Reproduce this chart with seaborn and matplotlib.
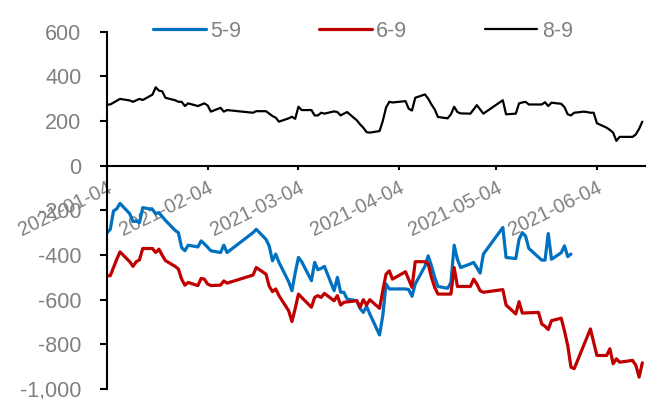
import pandas as pd
import matplotlib
matplotlib.use("Agg")
import matplotlib.pyplot as plt
from matplotlib.ticker import FuncFormatter
import seaborn as sns

# ---------------- data ----------------
dates_59 = ["01-04","01-05","01-06","01-07","01-08","01-11","01-12","01-13","01-14","01-15",
            "01-18","01-19","01-20","01-21","01-22","01-25","01-26","01-27","01-28","01-29",
            "02-01","02-02","02-03","02-04","02-05","02-08","02-09","02-10","02-18","02-19",
            "02-22","02-23","02-24","02-25","02-26","03-01","03-02","03-03","03-04","03-05",
            "03-08","03-09","03-10","03-11","03-12","03-15","03-16","03-17","03-18","03-19",
            "03-22","03-23","03-24","03-25","03-26","03-29","03-30","03-31","04-01","04-02",
            "04-06","04-07","04-08","04-09","04-12","04-13","04-14","04-15","04-16","04-19",
            "04-20","04-21","04-22","04-23","04-26","04-27","04-29","04-30","05-06","05-07",
            "05-10","05-11","05-12","05-13","05-14","05-17","05-18","05-19","05-20","05-21",
            "05-24","05-25","05-26","05-27"]
vals_59 = [-300,-285,-203,-193,-169,-215,-250,-248,-255,-188,
           -196,-215,-210,-228,-245,-290,-300,-367,-381,-356,
           -364,-337,-350,-365,-381,-389,-356,-389,-300,-285,
           -330,-360,-426,-396,-433,-520,-560,-480,-411,-430,
           -515,-433,-466,-460,-451,-560,-500,-567,-567,-597,
           -605,-640,-657,-630,-664,-758,-671,-530,-552,-552,
           -552,-555,-585,-530,-450,-404,-448,-500,-541,-549,
           -523,-356,-420,-456,-440,-433,-481,-396,-277,-411,
           -416,-330,-300,-315,-370,-410,-423,-423,-304,-419,
           -390,-359,-407,-396]

dates_69 = ["01-04","01-05","01-06","01-07","01-08","01-11","01-12","01-13","01-14","01-15",
            "01-18","01-19","01-20","01-21","01-22","01-25","01-26","01-27","01-28","01-29",
            "02-01","02-02","02-03","02-04","02-05","02-08","02-09","02-10","02-18","02-19",
            "02-22","02-23","02-24","02-25","02-26","03-01","03-02","03-03","03-04","03-05",
            "03-08","03-09","03-10","03-11","03-12","03-15","03-16","03-17","03-18","03-19",
            "03-22","03-23","03-24","03-25","03-26","03-29","03-30","03-31","04-01","04-02",
            "04-06","04-07","04-08","04-09","04-12","04-13","04-14","04-15","04-16","04-19",
            "04-20","04-21","04-22","04-23","04-26","04-27","04-28","04-29","04-30","05-06",
            "05-07","05-10","05-11","05-12","05-17","05-18","05-19","05-20","05-21","05-24",
            "05-25","05-26","05-27","05-28","06-02","06-04","06-07","06-08","06-09","06-10",
            "06-11","06-15","06-16","06-17","06-18"]
vals_69 = [-493,-493,-456,-419,-386,-430,-451,-430,-422,-371,
           -371,-389,-374,-401,-425,-451,-463,-508,-535,-523,
           -537,-505,-508,-530,-537,-535,-516,-526,-490,-456,
           -486,-540,-564,-552,-582,-650,-698,-640,-575,-590,
           -634,-590,-582,-590,-572,-605,-582,-624,-612,-610,
           -605,-634,-600,-624,-600,-639,-560,-486,-471,-508,
           -475,-510,-545,-430,-430,-440,-500,-545,-575,-575,
           -575,-456,-541,-541,-541,-508,-530,-560,-567,-555,
           -624,-664,-609,-660,-657,-709,-719,-734,-694,-683,
           -740,-805,-902,-909,-731,-850,-850,-820,-887,-865,
           -880,-872,-894,-947,-883]

dates_89 = ["01-04","01-05","01-08","01-11","01-12","01-14","01-15","01-18","01-19","01-20",
            "01-21","01-22","01-25","01-26","01-27","01-28","01-29","02-01","02-03","02-04",
            "02-05","02-08","02-09","02-10","02-18","02-19","02-22","02-23","02-24","02-25",
            "02-26","03-01","03-02","03-03","03-04","03-05","03-08","03-09","03-10","03-11",
            "03-12","03-15","03-16","03-17","03-18","03-19","03-22","03-23","03-24","03-25",
            "03-26","03-29","03-30","03-31","04-01","04-02","04-06","04-07","04-08","04-09",
            "04-12","04-13","04-14","04-15","04-16","04-19","04-20","04-21","04-22","04-23",
            "04-26","04-28","04-30","05-06","05-07","05-10","05-11","05-12","05-13","05-14",
            "05-17","05-18","05-19","05-20","05-21","05-24","05-25","05-26","05-27","05-28",
            "05-31","06-01","06-02","06-03","06-04","06-07","06-08","06-09","06-10","06-11",
            "06-15","06-16","06-17","06-18"]
vals_89 = [274,274,299,292,286,299,294,318,351,336,
           333,304,293,286,286,267,279,267,279,270,
           242,259,242,249,237,244,244,233,222,215,
           197,212,219,210,264,249,249,225,225,237,
           233,243,240,225,233,240,203,185,170,150,
           148,155,200,260,286,283,289,255,247,304,
           319,300,274,252,218,212,230,264,240,234,
           233,271,233,293,230,233,279,283,286,274,
           274,274,284,267,282,277,262,230,225,237,
           242,240,237,237,190,170,160,148,111,129,
           129,140,165,197]

series_names = ["5-9", "6-9", "8-9"]
tick_dates = ["2021-01-04", "2021-02-04", "2021-03-04", "2021-04-04", "2021-05-04", "2021-06-04"]
y_ticks = [-1000, -800, -600, -400, -200, 0, 200, 400, 600]

# ---------------- style ----------------
sns.set_style("white")
plt.rcParams["font.family"] = ["Liberation Sans", "DejaVu Sans"]
GRAY = "#808080"
colors = {"5-9": "#0070C0", "6-9": "#C00000", "8-9": "#000000"}
widths = {"5-9": 2.3, "6-9": 2.3, "8-9": 1.6}

def frame(dates, vals):
    return pd.DataFrame({"date": pd.to_datetime(["2021-" + d for d in dates]), "value": vals})

frames = {"5-9": frame(dates_59, vals_59),
          "6-9": frame(dates_69, vals_69),
          "8-9": frame(dates_89, vals_89)}

fig = plt.figure(figsize=(6.53, 3.99), dpi=100)
ax = fig.add_axes([0.1639, 0.0251, 0.8239, 0.8955])

for name in series_names:
    sns.lineplot(data=frames[name], x="date", y="value", ax=ax, color=colors[name],
                 linewidth=widths[name], label=name, estimator=None)

ax.set_xlim(pd.Timestamp("2021-01-04"), pd.Timestamp("2021-06-18 20:00"))
ax.set_ylim(-1000, 600)
ax.set_xlabel("")
ax.set_ylabel("")
ax.grid(False)

for s in ["top", "right"]:
    ax.spines[s].set_visible(False)
ax.spines["bottom"].set_position(("data", 0))
for s in ["left", "bottom"]:
    ax.spines[s].set_color("black")
    ax.spines[s].set_linewidth(1.5)

ax.set_yticks(y_ticks)
ax.yaxis.set_major_formatter(FuncFormatter(lambda v, p: f"{v:,.0f}"))
ax.tick_params(axis="y", direction="out", length=5, width=1.5, color="black",
               labelsize=15.5, labelcolor=GRAY, pad=13.5, left=True)

ax.set_xticks(pd.to_datetime(tick_dates))
ax.set_xticklabels(tick_dates, rotation=26, ha="right", va="top",
                   rotation_mode="anchor", color=GRAY, fontsize=14.2)
ax.tick_params(axis="x", direction="out", length=3, width=1.5, color="black", pad=6, bottom=True)

handles, labels = ax.get_legend_handles_labels()
ax.get_legend().remove()
fig.legend(handles, labels, ncol=3, loc="center", bbox_to_anchor=(0.556, 0.922),
           frameon=False, handlelength=2.45, handletextpad=0.2, columnspacing=3.6,
           fontsize=15.5, labelcolor=GRAY, borderpad=0, borderaxespad=0)

fig.savefig("out.png", dpi=100)
